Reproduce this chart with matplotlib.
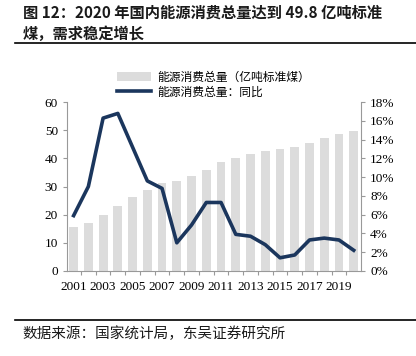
import numpy as np
import matplotlib.pyplot as plt
from matplotlib.ticker import FuncFormatter

# Data
years = list(range(2001, 2021))
consumption = [15.55, 16.96, 19.71, 23.03, 26.14, 28.65, 31.14, 32.06, 33.61, 36.06,
               38.70, 40.21, 41.69, 42.58, 43.40, 44.15, 45.58, 47.19, 48.75, 49.80]
growth = [5.9, 9.0, 16.3, 16.8, 13.2, 9.6, 8.8, 3.0, 4.9, 7.3,
          7.3, 3.9, 3.7, 2.8, 1.4, 1.7, 3.3, 3.5, 3.3, 2.2]
bar_label = "能源消费总量（亿吨标准煤）"
line_label = "能源消费总量：同比"
title_lines = ["图 12：2020 年国内能源消费总量达到 49.8 亿吨标准", "煤，需求稳定增长"]
source = "数据来源：国家统计局，东吴证券研究所"

cjk = ['Noto Sans CJK SC', 'DejaVu Sans']
num_font = 'Liberation Serif'

fig = plt.figure(figsize=(4.16, 3.56), dpi=100)
ax = fig.add_axes([0.161, 0.239, 0.707, 0.474])
ax2 = ax.twinx()

b = ax.bar(years, consumption, width=0.6, color='#DCDCDC', label=bar_label, zorder=1)
l, = ax2.plot(years, growth, color='#1B365D', linewidth=2.6, label=line_label, zorder=3)

ax.set_xlim(2001 - 0.45, 2020 + 0.5)
ax.set_ylim(0, 60)
ax.set_yticks(range(0, 61, 10))
ax2.set_ylim(0, 18)
ax2.set_yticks(range(0, 19, 2))
ax2.yaxis.set_major_formatter(FuncFormatter(lambda v, p: f"{int(v)}%"))
ax.set_xticks(years)
ax.set_xticklabels([str(y) if y % 2 == 1 else "" for y in years])
ax.set_xticks([y + 0.5 for y in years[:-1]], minor=True)

for a in (ax, ax2):
    for s in a.spines.values():
        s.set_visible(False)
    a.tick_params(labelsize=9.5, colors='#000000', length=3, width=0.8)
    for t in a.get_xticklabels() + a.get_yticklabels():
        t.set_fontfamily(num_font)
ax.spines['left'].set_visible(True)
ax.spines['left'].set_color('#999999')
ax.spines['bottom'].set_visible(True)
ax.spines['bottom'].set_color('#999999')
ax2.spines['right'].set_visible(True)
ax2.spines['right'].set_color('#999999')
ax.tick_params(axis='y', color='#999999')
ax.tick_params(axis='x', which='major', length=0, pad=7)
ax.tick_params(axis='x', which='minor', length=3, width=0.8, color='#999999')
ax2.tick_params(axis='y', color='#999999')

fig.legend([b, l], [bar_label, line_label], loc='upper left',
           bbox_to_anchor=(0.27, 0.815), frameon=False,
           prop={'family': cjk, 'size': 8.5}, handlelength=2.9,
           labelspacing=0.15, borderaxespad=0, handletextpad=0.5)

# Title and source
fig.text(0.055, 0.965, title_lines[0], family=cjk, fontsize=11,
         fontweight='bold', va='center', color='#1a1a1a')
fig.text(0.055, 0.905, title_lines[1], family=cjk, fontsize=11,
         fontweight='bold', va='center', color='#1a1a1a')
fig.add_artist(plt.Line2D([0.036, 1.0], [0.878, 0.878], color='black', linewidth=1.2))
fig.add_artist(plt.Line2D([0.036, 1.0], [0.10, 0.10], color='black', linewidth=1.2))
fig.text(0.055, 0.063, source, family=cjk, fontsize=10.5, va='center', color='#1a1a1a')

fig.savefig('out.png', dpi=100)
